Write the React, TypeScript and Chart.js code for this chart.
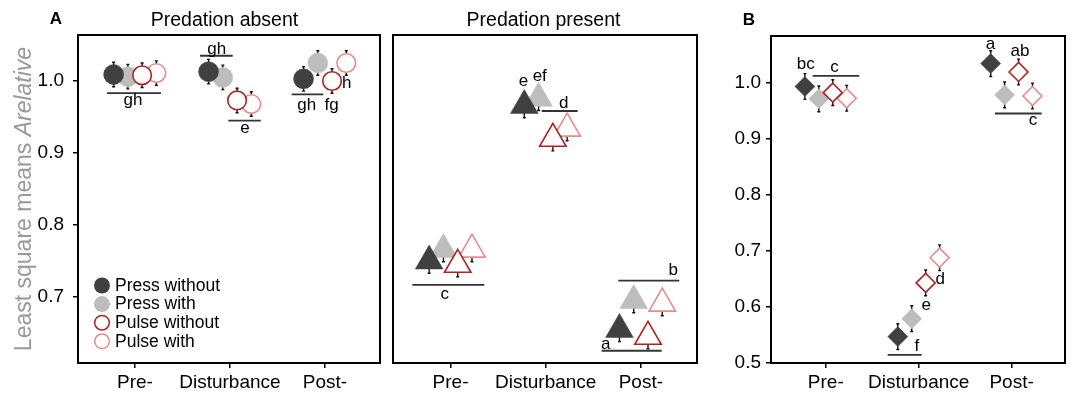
import React, { useEffect, useRef } from 'react';
import { Chart, registerables } from 'chart.js';

Chart.register(...registerables);

const FONT = "'Liberation Sans', Arial, Helvetica, sans-serif";

// ---------- shared categories / series ----------
const categories = ['Pre-', 'Disturbance', 'Post-'];
const seriesNames = ['Press without', 'Press with', 'Pulse without', 'Pulse with'];
const seriesDodge = [-0.225, -0.075, 0.075, 0.225];

// ---------- Panel A: predation absent (circles) ----------
const absentPressWithout = [1.009, 1.013, 1.003];
const absentPressWith = [1.006, 1.005, 1.025];
const absentPulseWithout = [1.008, 0.973, 1.0];
const absentPulseWith = [1.011, 0.968, 1.025];
const absentSE = [0.017, 0.017, 0.017, 0.017];
const absentLetters = [
  { x: 0.979, y: 0.9736, text: 'gh' },
  { x: 1.86, y: 1.0444, text: 'gh' },
  { x: 2.158, y: 0.9347, text: 'e' },
  { x: 2.808, y: 0.9667, text: 'gh' },
  { x: 3.071, y: 0.9667, text: 'fg' },
  { x: 3.229, y: 0.9968, text: 'h' },
];
const absentBars = [
  { x1: 0.705, x2: 1.274, y: 0.9833 },
  { x1: 1.685, x2: 2.029, y: 1.0351 },
  { x1: 1.983, x2: 2.324, y: 0.9449 },
  { x1: 2.65, x2: 2.983, y: 0.9815 },
];

// ---------- Panel A: predation present (triangles) ----------
const presentPressWithout = [0.75, 0.966, 0.655];
const presentPressWith = [0.766, 0.976, 0.695];
const presentPulseWithout = [0.745, 0.92, 0.645];
const presentPulseWith = [0.766, 0.934, 0.691];
const presentSE = [0.017, 0.017, 0.017, 0.017];
const presentLetters = [
  { x: 1.765, y: 0.9996, text: 'e' },
  { x: 1.937, y: 1.0069, text: 'ef' },
  { x: 2.19, y: 0.9697, text: 'd' },
  { x: 0.939, y: 0.7031, text: 'c' },
  { x: 3.341, y: 0.7372, text: 'b' },
  { x: 2.631, y: 0.6342, text: 'a' },
];
const presentBars = [
  { x1: 1.958, x2: 2.336, y: 0.9583 },
  { x1: 0.598, x2: 1.355, y: 0.7167 },
  { x1: 2.763, x2: 3.404, y: 0.7226 },
  { x1: 2.588, x2: 3.219, y: 0.6253 },
];

// ---------- Panel B (diamonds) ----------
const bPressWithout = [0.993, 0.546, 1.034];
const bPressWith = [0.971, 0.578, 0.978];
const bPulseWithout = [0.982, 0.642, 1.019];
const bPulseWith = [0.972, 0.687, 0.976];
const bSE = [0.023, 0.023, 0.023, 0.023];
const bLetters = [
  { x: 0.785, y: 1.0319, text: 'bc' },
  { x: 1.094, y: 1.0269, text: 'c' },
  { x: 2.773, y: 1.0693, text: 'a' },
  { x: 3.091, y: 1.0552, text: 'ab' },
  { x: 3.231, y: 0.9319, text: 'c' },
  { x: 2.233, y: 0.6491, text: 'd' },
  { x: 2.082, y: 0.6018, text: 'e' },
  { x: 1.979, y: 0.529, text: 'f' },
];
const bBars = [
  { x1: 0.859, x2: 1.361, y: 1.0122 },
  { x1: 2.821, x2: 3.324, y: 0.9448 },
  { x1: 1.666, x2: 2.032, y: 0.5134 },
];

const yTicksA = [0.7, 0.8, 0.9, 1.0];
const yTicksB = [0.5, 0.6, 0.7, 0.8, 0.9, 1.0];

// ---------- styles ----------
const seriesFill = ['#404040', '#bdbdbd', '#ffffff', '#ffffff'];
const seriesStroke = ['#404040', '#bdbdbd', '#b22222', '#e88a8a'];
const seriesBorder = [0.5, 0.5, 1.6, 1.6];
const seriesOrder = [0, 2, 1, 3];

type Letter = { x: number; y: number; text: string };
type Bar = { x1: number; x2: number; y: number };
type Panel = {
  key: string;
  left: number;
  width: number;
  padding: { left: number; right: number; top: number; bottom: number };
  yWidth: number | null;
  yPad: number;
  xMin: number;
  xMax: number;
  yMin: number;
  yMax: number;
  yTicks: number[];
  values: number[][];
  se: number[];
  pointStyle: string;
  radius: number[];
  letters: Letter[];
  bars: Bar[];
  title?: { text: string; x: number; y: number };
  tag?: { text: string; x: number; y: number };
  legend?: boolean;
  yTitle?: boolean;
};

const panels: Panel[] = [
  {
    key: 'absent',
    left: 0,
    width: 385,
    padding: { left: 0, right: 5, top: 35, bottom: 0 },
    yWidth: 78,
    yPad: 9,
    xMin: 0.4,
    xMax: 3.58,
    yMin: 0.6083,
    yMax: 1.0639,
    yTicks: yTicksA,
    values: [absentPressWithout, absentPressWith, absentPulseWithout, absentPulseWith],
    se: absentSE,
    pointStyle: 'circle',
    radius: [10, 10, 9.3, 9.3],
    letters: absentLetters,
    bars: absentBars,
    title: { text: 'Predation absent', x: 224.5, y: 26 },
    tag: { text: 'A', x: 56, y: 24 },
    legend: true,
    yTitle: true,
  },
  {
    key: 'present',
    left: 385,
    width: 320,
    padding: { left: 8, right: 8, top: 35, bottom: 0 },
    yWidth: null,
    yPad: 9,
    xMin: 0.395,
    xMax: 3.59,
    yMin: 0.6083,
    yMax: 1.0639,
    yTicks: yTicksA,
    values: [presentPressWithout, presentPressWith, presentPulseWithout, presentPulseWith],
    se: presentSE,
    pointStyle: 'triangle',
    radius: [16, 16, 15.3, 15.3],
    letters: presentLetters,
    bars: presentBars,
    title: { text: 'Predation present', x: 158.5, y: 26 },
  },
  {
    key: 'b',
    left: 705,
    width: 368,
    padding: { left: 0, right: 8, top: 36, bottom: 0 },
    yWidth: 66,
    yPad: 5,
    xMin: 0.41,
    xMax: 3.575,
    yMin: 0.4988,
    yMax: 1.0833,
    yTicks: yTicksB,
    values: [bPressWithout, bPressWith, bPulseWithout, bPulseWith],
    se: bSE,
    pointStyle: 'rectRot',
    radius: [10, 10, 9.5, 9.5],
    letters: bLetters,
    bars: bBars,
    tag: { text: 'B', x: 44, y: 25 },
  },
];

function makePlugins(p: Panel) {
  const errorBars = {
    id: 'errorBars_' + p.key,
    beforeDatasetsDraw(chart: any) {
      const { ctx } = chart;
      const xs = chart.scales.x;
      const ys = chart.scales.y;
      ctx.save();
      ctx.strokeStyle = '#111';
      ctx.lineWidth = 1.4;
      chart.data.datasets.forEach((ds: any, s: number) => {
        ds.data.forEach((pt: any) => {
          const px = xs.getPixelForValue(pt.x);
          const y1 = ys.getPixelForValue(pt.y + p.se[s]);
          const y2 = ys.getPixelForValue(pt.y - p.se[s]);
          ctx.beginPath();
          ctx.moveTo(px, y1);
          ctx.lineTo(px, y2);
          ctx.moveTo(px - 1.5, y1);
          ctx.lineTo(px + 1.5, y1);
          ctx.moveTo(px - 1.5, y2);
          ctx.lineTo(px + 1.5, y2);
          ctx.stroke();
        });
      });
      ctx.restore();
    },
  };

  const annotations = {
    id: 'annot_' + p.key,
    afterDatasetsDraw(chart: any) {
      const { ctx } = chart;
      const xs = chart.scales.x;
      const ys = chart.scales.y;
      ctx.save();
      ctx.strokeStyle = '#333';
      ctx.lineWidth = 1.8;
      p.bars.forEach((b) => {
        const y = ys.getPixelForValue(b.y);
        ctx.beginPath();
        ctx.moveTo(xs.getPixelForValue(b.x1), y);
        ctx.lineTo(xs.getPixelForValue(b.x2), y);
        ctx.stroke();
      });
      ctx.fillStyle = '#000';
      ctx.font = `17px ${FONT}`;
      ctx.textAlign = 'center';
      ctx.textBaseline = 'middle';
      p.letters.forEach((l) => {
        ctx.fillText(l.text, xs.getPixelForValue(l.x), ys.getPixelForValue(l.y));
      });
      ctx.restore();
    },
  };

  const decorations = {
    id: 'deco_' + p.key,
    afterDraw(chart: any) {
      const { ctx, chartArea } = chart;
      ctx.save();
      // panel frame
      ctx.strokeStyle = '#000';
      ctx.lineWidth = 2;
      ctx.strokeRect(chartArea.left, chartArea.top, chartArea.right - chartArea.left, chartArea.bottom - chartArea.top);
      // title
      ctx.fillStyle = '#000';
      ctx.textBaseline = 'alphabetic';
      if (p.title) {
        ctx.font = `19.5px ${FONT}`;
        ctx.textAlign = 'center';
        ctx.fillText(p.title.text, p.title.x, p.title.y);
      }
      if (p.tag) {
        ctx.font = `bold 17px ${FONT}`;
        ctx.textAlign = 'center';
        ctx.fillText(p.tag.text, p.tag.x, p.tag.y);
      }
      // y axis title
      if (p.yTitle) {
        const a = 'Least square means ';
        const b = 'Arelative';
        const fa = `23px ${FONT}`;
        const fb = `italic 23px ${FONT}`;
        ctx.font = fa;
        const wa = ctx.measureText(a).width;
        ctx.font = fb;
        const wb = ctx.measureText(b).width;
        const cy = (chartArea.top + chartArea.bottom) / 2;
        ctx.translate(25, cy);
        ctx.rotate(-Math.PI / 2);
        ctx.fillStyle = '#999999';
        ctx.textAlign = 'left';
        ctx.textBaseline = 'middle';
        ctx.font = fa;
        ctx.fillText(a, -(wa + wb) / 2, 0);
        ctx.font = fb;
        ctx.fillText(b, -(wa + wb) / 2 + wa, 0);
        ctx.setTransform(1, 0, 0, 1, 0, 0);
      }
      // legend
      if (p.legend) {
        const x0 = 102;
        const y0 = 285.5;
        const dy = 18.6;
        seriesNames.forEach((name, s) => {
          const y = y0 + s * dy;
          ctx.beginPath();
          ctx.arc(x0, y, s < 2 ? 8 : 7.3, 0, Math.PI * 2);
          ctx.fillStyle = seriesFill[s];
          ctx.fill();
          if (s >= 2) {
            ctx.lineWidth = 1.5;
            ctx.strokeStyle = seriesStroke[s];
            ctx.stroke();
          }
          ctx.fillStyle = '#000';
          ctx.font = `17.5px ${FONT}`;
          ctx.textAlign = 'left';
          ctx.textBaseline = 'middle';
          ctx.fillText(name, 115, y + 0.5);
        });
      }
      ctx.restore();
    },
  };
  return [errorBars, annotations, decorations];
}

function buildConfig(p: Panel): any {
  const datasets = seriesNames.map((name, s) => ({
    label: name,
    data: categories.map((_, c) => ({ x: c + 1 + seriesDodge[s], y: p.values[s][c] })),
    pointStyle: p.pointStyle,
    pointRadius: p.radius[s],
    pointHoverRadius: p.radius[s],
    pointBackgroundColor: seriesFill[s],
    pointBorderColor: seriesStroke[s],
    pointBorderWidth: seriesBorder[s],
    showLine: false,
    order: seriesOrder[s],
  }));

  return {
    type: 'scatter',
    data: { datasets },
    options: {
      responsive: false,
      animation: false,
      devicePixelRatio: 1,
      events: [],
      layout: { padding: p.padding, autoPadding: false },
      plugins: {
        legend: { display: false },
        tooltip: { enabled: false },
        title: { display: false },
      },
      scales: {
        x: {
          type: 'linear',
          min: p.xMin,
          max: p.xMax,
          afterBuildTicks: (s: any) => {
            s.ticks = categories.map((_, i) => ({ value: i + 1 }));
          },
          afterFit: (s: any) => {
            s.height = 32;
            s.paddingLeft = 0;
            s.paddingRight = 0;
          },
          ticks: {
            callback: (v: number) => categories[Math.round(v) - 1] ?? '',
            font: { family: FONT, size: 19 },
            color: '#000',
            padding: 3,
            maxRotation: 0,
            autoSkip: false,
          },
          grid: { drawOnChartArea: false, drawTicks: true, tickLength: 5, color: '#000', lineWidth: 1.5 },
          border: { display: false },
        },
        y: {
          type: 'linear',
          display: p.yWidth !== null,
          min: p.yMin,
          max: p.yMax,
          afterBuildTicks: (s: any) => {
            s.ticks = p.yTicks.map((v) => ({ value: v }));
          },
          afterFit: (s: any) => {
            if (p.yWidth !== null) s.width = p.yWidth;
            s.paddingTop = 0;
            s.paddingBottom = 0;
          },
          ticks: {
            callback: (v: number) => v.toFixed(1),
            font: { family: FONT, size: 19 },
            color: '#000',
            padding: p.yPad,
            autoSkip: false,
          },
          grid: { drawOnChartArea: false, drawTicks: true, tickLength: 5, color: '#000', lineWidth: 1.5 },
          border: { display: false },
        },
      },
    },
    plugins: makePlugins(p),
  };
}

export default function App() {
  const refs = useRef<(HTMLCanvasElement | null)[]>([]);

  useEffect(() => {
    const charts = panels.map((p, i) => new Chart(refs.current[i] as HTMLCanvasElement, buildConfig(p)));
    return () => charts.forEach((c) => c.destroy());
  }, []);

  return (
    <div
      style={{
        position: 'absolute',
        left: 0,
        top: 0,
        width: 1073,
        height: 395,
        background: '#fff',
        overflow: 'hidden',
      }}
    >
      {panels.map((p, i) => (
        <div key={p.key} style={{ position: 'absolute', left: p.left, top: 0, width: p.width, height: 395 }}>
          <canvas
            ref={(el) => {
              refs.current[i] = el;
            }}
            width={p.width}
            height={395}
            style={{ display: 'block', width: p.width, height: 395 }}
          />
        </div>
      ))}
    </div>
  );
}
